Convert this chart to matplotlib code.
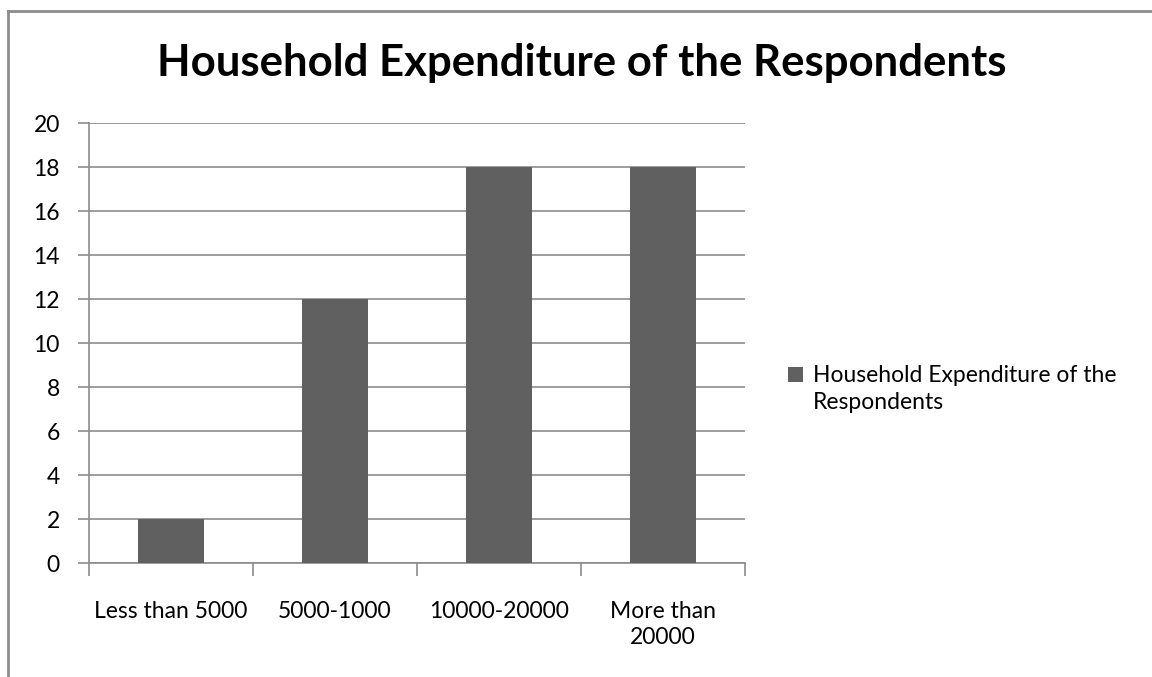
import matplotlib.pyplot as plt
import numpy as np
from matplotlib.lines import Line2D
from matplotlib.patches import Rectangle
from matplotlib.legend_handler import HandlerPatch
from matplotlib.container import BarContainer

categories = ['Less than 5000', '5000-1000', '10000-20000', 'More than\n20000']
values = [2, 12, 18, 18]
series_name = 'Household Expenditure of the Respondents'

plt.rcParams['font.family'] = ['Lato', 'DejaVu Sans']

fig = plt.figure(figsize=(11.52, 6.77), dpi=100)
W, H = 1152, 677
ax = fig.add_axes([89/W, 1-563/H, (745-89)/W, (563-123)/H])

x = np.arange(len(categories))
ax.bar(x, values, width=0.4, color='#606060', label='Household Expenditure of the\nRespondents', zorder=3)

ax.set_xlim(-0.5, len(categories)-0.5)
ax.set_ylim(0, 20)
ax.set_yticks(np.arange(0, 21, 2))
ax.yaxis.grid(True, color='#8c8c8c', linewidth=1.2, zorder=0)
ax.set_xticks(x)
ax.set_xticklabels(categories, fontsize=16.5, linespacing=1.3)
ax.set_xticks(np.arange(-0.5, len(categories), 1), minor=True)
ax.tick_params(axis='x', which='major', length=0, pad=27)
ax.tick_params(axis='x', which='minor', length=9, width=1.2, color='#8c8c8c', direction='out')
ax.tick_params(axis='y', length=8, width=1.2, color='#8c8c8c', labelsize=16.5, pad=13)
for s in ['top', 'right']:
    ax.spines[s].set_visible(False)
for s in ['left', 'bottom']:
    ax.spines[s].set_color('#8c8c8c')
    ax.spines[s].set_linewidth(1.2)

fig.text(0.505, 1-63/H, series_name, ha='center', va='center', fontsize=31.5, fontweight='bold')

# square sits next to the first line of the label, like excel
def top_square(legend, orig_handle, xdescent, ydescent, width, height, fontsize):
    return Rectangle((-xdescent, -ydescent + 11), width, height)

def first_bar(legend_handle, orig_handle):
    legend_handle.update_from(orig_handle[0])

leg = ax.legend(loc='center left', bbox_to_anchor=(767/W, 1-389/H), bbox_transform=fig.transFigure,
                frameon=False, fontsize=16.5, handlelength=0.65, handleheight=0.65, handletextpad=0.45,
                handler_map={BarContainer: HandlerPatch(patch_func=top_square, update_func=first_bar)})
for t in leg.get_texts():
    t.set_linespacing(1.3)

# chart border (top and left only visible)
fig.add_artist(Line2D([8/W, 1], [1-11/H, 1-11/H], color='#8c8c8c', linewidth=2, transform=fig.transFigure))
fig.add_artist(Line2D([8/W, 8/W], [0, 1-11/H], color='#8c8c8c', linewidth=2, transform=fig.transFigure))

fig.savefig('out.png', dpi=100)
